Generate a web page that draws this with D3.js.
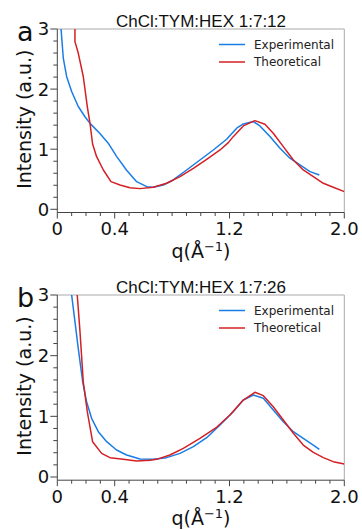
<!DOCTYPE html>
<html>
<head>
<meta charset="utf-8">
<script src="https://cdn.jsdelivr.net/npm/d3@7"></script>
<style>
  body { margin: 0; background: #fff; }
  svg { display: block; }
  .tick-label { font-family: "DejaVu Sans", sans-serif; font-size: 18px; fill: #111; }
  .axis-title { font-family: "DejaVu Sans", sans-serif; font-size: 19px; fill: #111; }
  .panel-title { font-family: "Liberation Sans", Arial, sans-serif; font-size: 17px; fill: #111; }
  .legend-text { font-family: "DejaVu Sans", sans-serif; font-size: 12px; fill: #222; }
  .panel-letter { font-family: "DejaVu Sans", sans-serif; font-size: 27px; fill: #111; }
</style>
</head>
<body>
<svg id="chart" width="362" height="530"></svg>
<script>
// series names and colours
const seriesNames = ['Experimental', 'Theoretical'];
const seriesColors = ['#1a7de6', '#d42024'];

// x ticks (labelled ones only)
const xTickLabels = [0, 0.4, 1.2, 2.0];
const yTickLabels = [0, 1, 2, 3];

// panel a : ChCl:TYM:HEX 1:7:12
const expA = [
    [0.026, 3.0], [0.042, 2.51], [0.065, 2.21], [0.10, 1.96], [0.146, 1.71], [0.193, 1.54],
    [0.228, 1.43], [0.297, 1.26], [0.355, 1.10], [0.413, 0.88], [0.483, 0.65], [0.553, 0.46],
    [0.623, 0.377], [0.669, 0.366], [0.739, 0.405], [0.808, 0.488], [0.901, 0.654], [0.994, 0.82],
    [1.087, 0.987], [1.18, 1.165], [1.25, 1.35], [1.296, 1.42], [1.366, 1.46], [1.412, 1.387],
    [1.482, 1.21], [1.552, 1.015], [1.621, 0.85], [1.691, 0.738], [1.761, 0.627], [1.826, 0.571]
];
const theoA = [
    [0.123, 3.0], [0.123, 2.79], [0.146, 2.6], [0.181, 2.21], [0.209, 1.71], [0.228, 1.43],
    [0.246, 1.087], [0.274, 0.876], [0.321, 0.654], [0.374, 0.46], [0.437, 0.405], [0.506, 0.36],
    [0.576, 0.344], [0.669, 0.366], [0.762, 0.433], [0.855, 0.544], [0.948, 0.682], [1.041, 0.832],
    [1.134, 0.987], [1.192, 1.109], [1.226, 1.209], [1.296, 1.387], [1.377, 1.475], [1.447, 1.414],
    [1.505, 1.265], [1.575, 1.043], [1.645, 0.82], [1.714, 0.654], [1.784, 0.544], [1.854, 0.433],
    [1.923, 0.366], [2.0, 0.294]
];

// panel b : ChCl:TYM:HEX 1:7:26
const expB = [
    [0.10, 3.0], [0.123, 2.56], [0.146, 2.12], [0.177, 1.57], [0.204, 1.24], [0.239, 0.967],
    [0.286, 0.747], [0.344, 0.582], [0.413, 0.445], [0.483, 0.363], [0.576, 0.297], [0.669, 0.291],
    [0.762, 0.319], [0.855, 0.39], [0.948, 0.50], [1.041, 0.648], [1.134, 0.857], [1.226, 1.077],
    [1.296, 1.269], [1.366, 1.352], [1.436, 1.297], [1.505, 1.104], [1.575, 0.912], [1.645, 0.747],
    [1.714, 0.637], [1.784, 0.527], [1.826, 0.456]
];
const theoB = [
    [0.139, 3.0], [0.158, 2.4], [0.181, 1.57], [0.209, 1.077], [0.246, 0.582], [0.309, 0.39],
    [0.367, 0.319], [0.46, 0.291], [0.553, 0.264], [0.646, 0.275], [0.692, 0.291], [0.785, 0.363],
    [0.878, 0.473], [0.994, 0.637], [1.11, 0.819], [1.203, 1.022], [1.296, 1.269], [1.377, 1.396],
    [1.436, 1.341], [1.505, 1.159], [1.575, 0.94], [1.645, 0.72], [1.714, 0.527], [1.784, 0.407],
    [1.854, 0.319], [1.923, 0.253], [2.0, 0.214]
];

const panels = [
    {letter: 'a', title: 'ChCl:TYM:HEX 1:7:12', top: 29, zero: 209.3, series: [expA, theoA]},
    {letter: 'b', title: 'ChCl:TYM:HEX 1:7:26', top: 295, zero: 477, series: [expB, theoB]}
];

const svg = d3.select('#chart');
const left = 57.3, right = 344.3;

panels.forEach((p, pi) => {
    let x = d3.scaleLinear().domain([0, 2]).range([left, right]);
    let y = d3.scaleLinear().domain([0, 3]).range([p.zero, p.top]);
    let axisY = p.zero + 3.2;
    let g = svg.append('g');

    // frame: grey top & right
    g.append('path')
        .attr('d', 'M' + left + ',' + p.top + 'H' + right + 'V' + axisY)
        .attr('fill', 'none').attr('stroke', '#aaa').attr('stroke-width', 1);

    // clipped curves
    let clipId = 'clip' + pi;
    svg.append('clipPath').attr('id', clipId).append('rect')
        .attr('x', left).attr('y', p.top).attr('width', right - left).attr('height', axisY - p.top);
    let line = d3.line().x(d => x(d[0])).y(d => y(d[1]));
    g.append('g').attr('clip-path', 'url(#' + clipId + ')')
        .selectAll('path').data(p.series).enter().append('path')
        .attr('d', d => line(d))
        .attr('fill', 'none')
        .attr('stroke', (d, i) => seriesColors[i])
        .attr('stroke-width', 1.5)
        .attr('stroke-linejoin', 'round');

    // x axis
    let xa = g.append('g').attr('transform', 'translate(0,' + axisY + ')');
    xa.append('line').attr('x1', left).attr('x2', right).attr('stroke', '#444').attr('stroke-width', 1);
    let xMinor = d3.range(0, 21).map(i => i / 10);
    xa.selectAll('.xt').data(xMinor).enter().append('line')
        .attr('x1', d => x(d)).attr('x2', d => x(d))
        .attr('y1', 0).attr('y2', d => (xTickLabels.some(v => Math.abs(v - d) < 1e-6) ? 6 : 3.5))
        .attr('stroke', '#444').attr('stroke-width', 1);
    xa.selectAll('.xl').data(xTickLabels).enter().append('text')
        .attr('class', 'tick-label')
        .attr('x', d => x(d)).attr('y', 22.5)
        .attr('text-anchor', 'middle')
        .text(d => (d === 0 ? '0' : d.toFixed(1)));

    // y axis
    let ya = g.append('g').attr('transform', 'translate(' + left + ',0)');
    ya.append('line').attr('y1', p.top).attr('y2', axisY).attr('stroke', '#444').attr('stroke-width', 1);
    let yMinor = d3.range(0, 16).map(i => i / 5);
    ya.selectAll('.yt').data(yMinor).enter().append('line')
        .attr('y1', d => y(d)).attr('y2', d => y(d))
        .attr('x1', d => (Math.abs(d - Math.round(d)) < 1e-6 ? -7 : -4)).attr('x2', 0)
        .attr('stroke', '#444').attr('stroke-width', 1);
    ya.selectAll('.yl').data(yTickLabels).enter().append('text')
        .attr('class', 'tick-label')
        .attr('x', -8).attr('y', d => y(d))
        .attr('dy', '0.36em')
        .attr('text-anchor', 'end')
        .text(d => d);

    // axis titles
    g.append('text').attr('class', 'axis-title')
        .attr('transform', 'translate(31,' + ((p.top + p.zero) / 2) + ') rotate(-90)')
        .attr('text-anchor', 'middle')
        .text('Intensity (a.u.)');
    let xt = g.append('text').attr('class', 'axis-title')
        .attr('x', 201).attr('y', axisY + 45)
        .attr('text-anchor', 'middle');
    xt.append('tspan').text('q(Å');
    xt.append('tspan').attr('dy', -7).attr('font-size', 13).text('−1');
    xt.append('tspan').attr('dy', 7).text(')');

    // title and letter
    g.append('text').attr('class', 'panel-title')
        .attr('x', 201).attr('y', p.top - 2)
        .attr('text-anchor', 'middle')
        .text(p.title);
    g.append('text').attr('class', 'panel-letter')
        .attr('x', 17).attr('y', p.top + 12)
        .text(p.letter);

    // legend
    let lg = g.append('g');
    seriesNames.forEach((name, i) => {
        let ly = p.top + 15.5 + i * 17.5;
        lg.append('line').attr('x1', 219).attr('x2', 245).attr('y1', ly).attr('y2', ly)
            .attr('stroke', seriesColors[i]).attr('stroke-width', 1.5);
        lg.append('text').attr('class', 'legend-text')
            .attr('x', 254).attr('y', ly).attr('dy', '0.36em')
            .text(name);
    });
});
</script>
</body>
</html>
